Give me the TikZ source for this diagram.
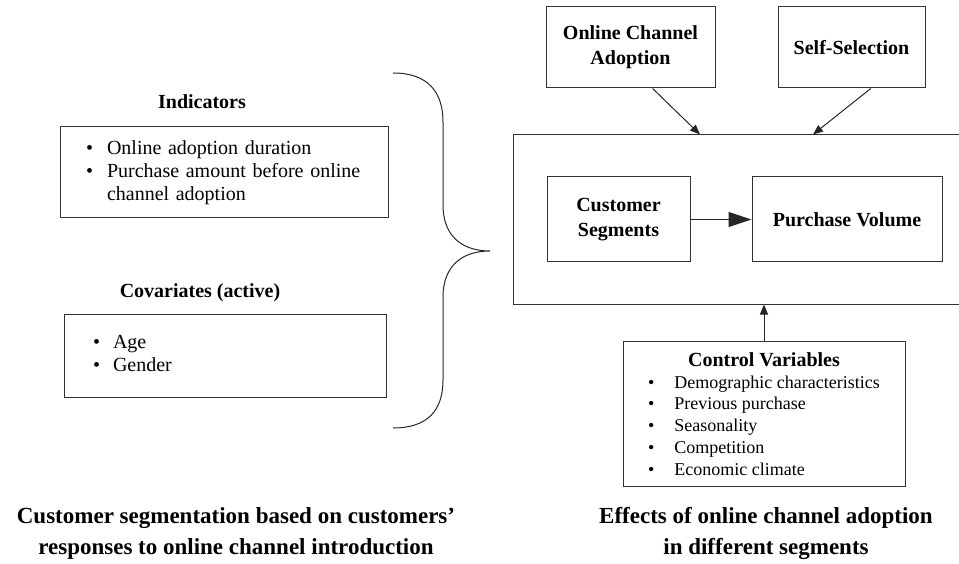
\documentclass[tikz,border=0pt]{standalone}
\usepackage{fontspec}
\setmainfont{Liberation Serif}
\usetikzlibrary{arrows.meta,calc}

\begin{document}
\begin{tikzpicture}[x=1pt,y=-1pt,
  box/.style={draw=black!80, line width=1pt, inner sep=0pt},
  heading/.style={font=\fontsize{20}{25}\selectfont\bfseries, align=center},
  caption/.style={font=\fontsize{23}{31}\selectfont\bfseries, align=center},
  listtext/.style={font=\fontsize{20}{23}\selectfont, align=left},
  arr/.style={-{Triangle[length=10pt,width=8pt]}, draw=black!85, line width=1pt},
  bigarr/.style={-{Triangle[length=23pt,width=15pt]}, draw=black!85, line width=1pt}]
  \useasboundingbox (0,0) rectangle (959,564);

  % left half: segmentation
  \node[heading] (indtitle) at (202,102) {Indicators};
  \node[box, listtext, minimum width=328pt, minimum height=91pt, text width=276pt]
    (indbox) at (224,172.5) {%
    \begin{tabular}{@{}l@{\hspace{14pt}}l@{}}
      \textbullet & Online adoption duration\\
      \textbullet & Purchase amount before online\\
                  & channel adoption
    \end{tabular}};

  \node[heading] (covtitle) at (200,293) {Covariates (active)};
  \node[box, listtext, minimum width=322pt, minimum height=83pt, text width=264pt]
    (covbox) at (225,355.5) {%
    \begin{tabular}{@{}l@{\hspace{13pt}}l@{}}
      \textbullet & Age\\
      \textbullet & Gender
    \end{tabular}};

  % brace
  \draw[draw=black!85, line width=1pt]
    (393,73) .. controls (428,73) and (443,92) .. (443,122) -- (443,205)
    .. controls (443,236) and (462,251) .. (490,251)
    .. controls (462,251) and (443,266) .. (443,297) -- (443,380)
    .. controls (443,410) and (428,428) .. (393,428);

  \node[caption] (segcap) at (236,533)
    {Customer segmentation based on customers'\\responses to online channel introduction};

  % right half: effects
  \node[box, heading, minimum width=169pt, minimum height=81pt] (oca) at (630.5,47.5)
    {Online Channel\\Adoption};
  \node[box, heading, minimum width=147pt, minimum height=81pt] (selfsel) at (851.5,47.5)
    {Self-Selection};
  \node[box, minimum width=462pt, minimum height=169pt] (effbox) at (744,219.5) {};
  \node[box, heading, minimum width=143pt, minimum height=85pt] (custseg) at (618.5,219.5)
    {Customer\\Segments};
  \node[box, heading, minimum width=190pt, minimum height=85pt] (purvol) at (847,219.5)
    {Purchase Volume};

  \node[box, minimum width=282pt, minimum height=145pt] (ctrl) at (764,413.5) {%
    \fontsize{18}{21.75}\selectfont
    \begin{tabular}{@{}l@{\hspace{20pt}}l@{}}
      \multicolumn{2}{c}{\rule{0pt}{21pt}\fontsize{20}{24}\selectfont\bfseries Control Variables}\\
      \textbullet & Demographic characteristics\\
      \textbullet & Previous purchase\\
      \textbullet & Seasonality\\
      \textbullet & Competition\\
      \textbullet & Economic climate
    \end{tabular}};

  \node[caption] (effcap) at (766,533)
    {Effects of online channel adoption\\in different segments};

  % arrows
  \draw[arr] ($(oca.south west)!0.63!(oca.south east)$)
    -- ($(effbox.north west)!0.405!(effbox.north east)$);
  \draw[arr] ($(selfsel.south west)!0.63!(selfsel.south east)$)
    -- ($(effbox.north west)!0.649!(effbox.north east)$);
  \draw[bigarr] (custseg.east) -- (purvol.west);
  \draw[arr] (ctrl.north) -- (ctrl.north |- effbox.south);
\end{tikzpicture}
\end{document}
